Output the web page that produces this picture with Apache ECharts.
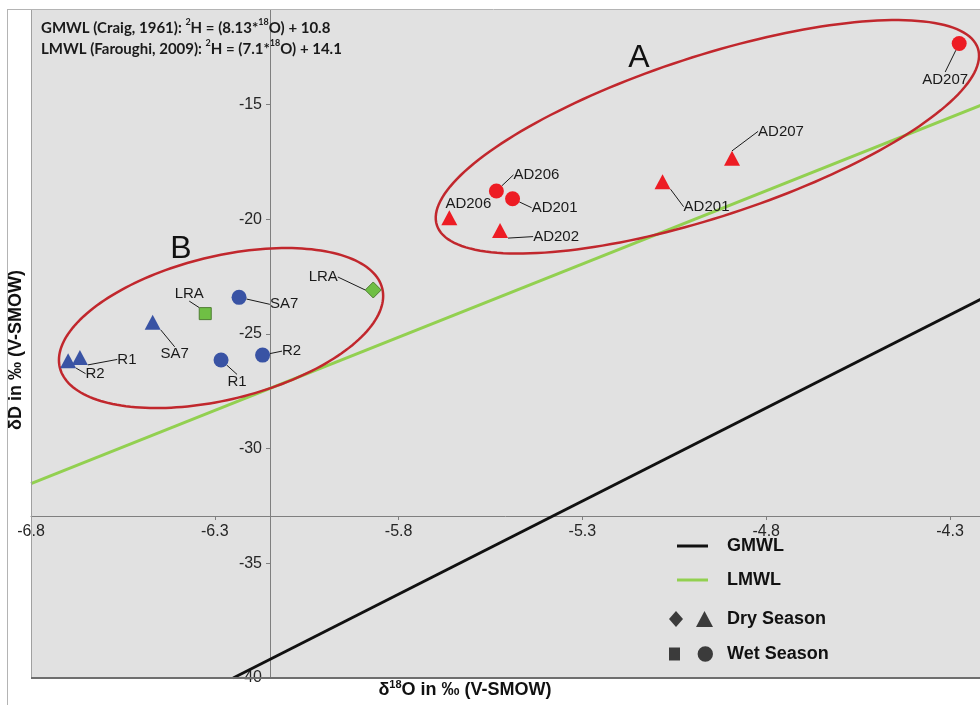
<!DOCTYPE html>
<html><head><meta charset="utf-8">
<script src="https://cdn.jsdelivr.net/npm/echarts@6/dist/echarts.min.js"></script>
<style>html,body{margin:0;padding:0;background:#fff}#c{width:980px;height:705px}</style>
</head><body><div id="c"></div>
<script>
// ---------------- data ----------------
const xTicks = [-6.8, -6.3, -5.8, -5.3, -4.8, -4.3];
const yTicks = [-40, -35, -30, -25, -20, -15];

// Group A (red)
const redDryNames = ['AD206', 'AD202', 'AD201', 'AD207'];
const redDryX = [-5.662, -5.524, -5.082, -4.893];
const redDryY = [-19.93, -20.49, -18.36, -17.34];
const redWetNames = ['AD206', 'AD201', 'AD207'];
const redWetX = [-5.534, -5.490, -4.275];
const redWetY = [-18.76, -19.10, -12.33];

// Group B (blue)
const blueDryNames = ['R1', 'R2', 'SA7'];
const blueDryX = [-6.667, -6.699, -6.469];
const blueDryY = [-26.02, -26.16, -24.49];
const blueWetNames = ['SA7', 'R1', 'R2'];
const blueWetX = [-6.234, -6.283, -6.170];
const blueWetY = [-23.40, -26.13, -25.92];

// LRA (green)
const greenDryNames = ['LRA'];
const greenDryX = [-5.869];
const greenDryY = [-23.08];
const greenWetNames = ['LRA'];
const greenWetX = [-6.326];
const greenWetY = [-24.11];

// Meteoric water lines (end points)
const gmwlX = [-6.25, -4.20];
const gmwlY = [-40.0, -23.35];
const lmwlX = [-6.80, -4.20];
const lmwlY = [-31.52, -14.92];

// Group ellipse centres (data coords)
const groupNames = ['A', 'B'];
const groupCX = [-4.960, -6.283];
const groupCY = [-16.40, -24.74];

// ---------------- layout / style ----------------
const ellipseShape = [ {rx: 284.6, ry: 80.2, angle: 18.1}, {rx: 166, ry: 71.6, angle: 13.8} ];
const labelOffsets = {
  redDry:  [[19,-14],[56,6],[44,25],[49,-27]],
  redWet:  [[40,-16],[42,9],[-14,36]],
  blueDry: [[47,2],[27,13],[22,32]],
  blueWet: [[45,7],[16,22],[29,-4]],
  greenDry:[[-50,-13]],
  greenWet:[[-16,-20]]
};
const noLine = { redDry: [0] };

const FONT = "'Liberation Sans', Arial, sans-serif";
const RED = '#ed1c24', BLUE = '#3953a4', GREEN = '#6fbf44';

function pts(xs, ys) { return xs.map((x, i) => [x, ys[i]]); }

function scatter(key, names, xs, ys, symbol, size, color, border) {
  const offs = labelOffsets[key];
  const nl = noLine[key] || [];
  return {
    type: 'scatter',
    name: key,
    z: 5,
    symbol: symbol,
    symbolSize: size,
    itemStyle: { color: color, borderColor: border || color, borderWidth: border ? 1 : 0, opacity: 1 },
    label: {
      show: true, position: 'inside', formatter: p => p.name,
      color: '#1a1a1a', fontSize: 15, fontFamily: FONT
    },
    labelLine: { show: true, lineStyle: { color: '#1a1a1a', width: 1 } },
    labelLayout: p => ({ dx: offs[p.dataIndex][0], dy: offs[p.dataIndex][1] }),
    emphasis: { disabled: true },
    data: names.map((n, i) => {
      const d = { name: n, value: [xs[i], ys[i]] };
      if (nl.indexOf(i) >= 0) d.labelLine = { show: false };
      return d;
    })
  };
}

const chart = echarts.init(document.getElementById('c'), null, { renderer: 'canvas' });

const dryIcon = 'path://M7,0L14,8L7,16L0,8Z M27,16L35.5,0L44,16Z';
const wetIcon = 'path://M3,3H13V15H3Z M29,9A7,7 0 1,1 43,9A7,7 0 1,1 29,9Z';

const option = {
  animation: false,
  backgroundColor: '#ffffff',
  title: {
    left: 36, top: 13,
    text: '{b|GMWL (Craig, 1961): }{s|2}{b|H = (8.13*}{s|18}{b|O) + 10.8}\n{b|LMWL (Faroughi, 2009): }{s|2}{b|H = (7.1*}{s|18}{b|O) + 14.1}',
    textStyle: {
      rich: {
        b: { fontFamily: 'Lato, ' + FONT, fontWeight: 'bold', fontSize: 15, color: '#1a1a1a', lineHeight: 21 },
        s: { fontFamily: 'Lato, ' + FONT, fontWeight: 'bold', fontSize: 9, color: '#1a1a1a', verticalAlign: 'top', lineHeight: 21 }
      }
    }
  },
  grid: {
    left: 31, top: 10, right: 0, bottom: 27,
    show: true, backgroundColor: '#e1e1e1', borderWidth: 0
  },
  xAxis: {
    type: 'value', min: -6.8, max: -4.2184, position: 'bottom', offset: -162,
    splitLine: { show: false },
    axisLine: { lineStyle: { color: '#7f7f7f', width: 1 } },
    axisTick: { customValues: xTicks, length: 4, lineStyle: { color: '#7f7f7f' } },
    axisLabel: { customValues: xTicks, formatter: v => v.toFixed(1), color: '#262626', fontSize: 16, fontFamily: FONT, margin: 8 }
  },
  yAxis: {
    type: 'value', min: -40, max: -10.87, position: 'left', offset: -239,
    splitLine: { show: false },
    axisLine: { lineStyle: { color: '#7f7f7f', width: 1 } },
    axisTick: { customValues: yTicks, length: 4, lineStyle: { color: '#7f7f7f' } },
    axisLabel: { customValues: yTicks, color: '#262626', fontSize: 16, fontFamily: FONT, margin: 8 }
  },
  legend: [
    {
      selectedMode: false, orient: 'vertical', left: 672, top: 532,
      itemWidth: 31, itemHeight: 3, itemGap: 16, icon: 'rect',
      textStyle: { fontFamily: FONT, fontWeight: 'bold', fontSize: 18, color: '#111', padding: [0, 0, 0, 14] },
      data: ['GMWL', 'LMWL']
    },
    {
      selectedMode: false, orient: 'vertical', left: 664, top: 605,
      itemWidth: 44, itemHeight: 16, itemGap: 17,
      textStyle: { fontFamily: FONT, fontWeight: 'bold', fontSize: 18, color: '#111', padding: [0, 0, 0, 9] },
      data: [ { name: 'Dry Season', icon: dryIcon }, { name: 'Wet Season', icon: wetIcon } ]
    }
  ],
  graphic: [
    { type: 'line', shape: { x1: 7, y1: 9.5, x2: 980, y2: 9.5 }, style: { stroke: '#b4b4b4', lineWidth: 1 }, z: 100 },
    { type: 'line', shape: { x1: 7.5, y1: 9, x2: 7.5, y2: 705 }, style: { stroke: '#b4b4b4', lineWidth: 1 }, z: 100 },
    { type: 'line', shape: { x1: 31.5, y1: 10, x2: 31.5, y2: 678 }, style: { stroke: '#a0a0a0', lineWidth: 1 }, z: 100 },
    { type: 'line', shape: { x1: 31, y1: 678, x2: 980, y2: 678 }, style: { stroke: '#6e6e6e', lineWidth: 2 }, z: 100 },
    { type: 'text', x: 639, y: 58, style: { text: groupNames[0], font: '32px ' + FONT, fill: '#111', align: 'center', verticalAlign: 'middle' }, z: 100 },
    { type: 'text', x: 181, y: 249, style: { text: groupNames[1], font: '32px ' + FONT, fill: '#111', align: 'center', verticalAlign: 'middle' }, z: 100 },
    { type: 'text', x: 465, y: 690, style: {
        text: '{a|δ}{s|18}{a|O in ‰ (V-SMOW)}', align: 'center', verticalAlign: 'middle',
        rich: {
          a: { fontFamily: FONT, fontWeight: 'bold', fontSize: 18, fill: '#111', lineHeight: 22 },
          s: { fontFamily: FONT, fontWeight: 'bold', fontSize: 11, fill: '#111', verticalAlign: 'top', lineHeight: 22 }
        } }, z: 100 },
    { type: 'text', x: 16, y: 350, rotation: Math.PI / 2, style: {
        text: 'δD in ‰ (V-SMOW)', font: 'bold 18px ' + FONT, fill: '#111', align: 'center', verticalAlign: 'middle' }, z: 100 }
  ],
  series: [
    {
      type: 'custom', name: 'groups', z: 3, silent: true,
      encode: { x: 0, y: 1 },
      data: groupCX.map((x, i) => [x, groupCY[i]]),
      renderItem: (params, api) => {
        const c = api.coord([api.value(0), api.value(1)]);
        const e = ellipseShape[params.dataIndex];
        const th = e.angle * Math.PI / 180, ct = Math.cos(th), st = Math.sin(th);
        const p = [];
        for (let k = 0; k < 180; k++) {
          const t = k / 180 * Math.PI * 2;
          const x = e.rx * Math.cos(t), y = e.ry * Math.sin(t);
          p.push([c[0] + x * ct + y * st, c[1] - x * st + y * ct]);
        }
        return { type: 'polygon', shape: { points: p }, style: { fill: 'none', stroke: '#c1272d', lineWidth: 2.5 } };
      }
    },
    { type: 'line', name: 'GMWL', z: 2, color: '#111', showSymbol: false, silent: true,
      lineStyle: { color: '#111', width: 3 }, data: pts(gmwlX, gmwlY) },
    { type: 'line', name: 'LMWL', z: 2, color: '#92d050', showSymbol: false, silent: true,
      lineStyle: { color: '#92d050', width: 3 }, data: pts(lmwlX, lmwlY) },
    { type: 'scatter', name: 'Dry Season', color: '#111', data: [] },
    { type: 'scatter', name: 'Wet Season', color: '#111', data: [] },
    scatter('redDry', redDryNames, redDryX, redDryY, 'triangle', [16, 15], RED),
    scatter('redWet', redWetNames, redWetX, redWetY, 'circle', 15, RED),
    scatter('blueDry', blueDryNames, blueDryX, blueDryY, 'triangle', [16, 15], BLUE),
    scatter('blueWet', blueWetNames, blueWetX, blueWetY, 'circle', 15, BLUE),
    scatter('greenDry', greenDryNames, greenDryX, greenDryY, 'diamond', 16, GREEN, '#4f7d33'),
    scatter('greenWet', greenWetNames, greenWetX, greenWetY, 'rect', 12, GREEN, '#4f7d33')
  ]
};
chart.setOption(option);
</script>
</body></html>
